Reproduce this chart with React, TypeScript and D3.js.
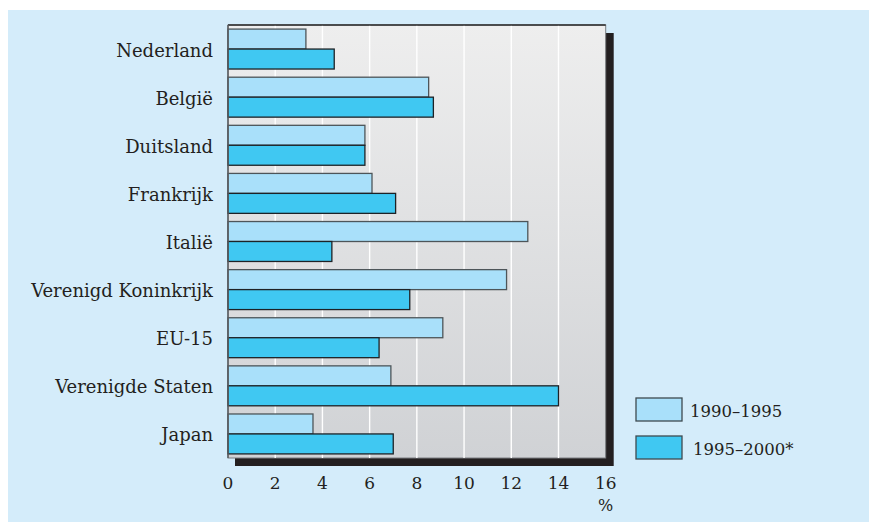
import * as d3 from 'd3';

const countries = [
  'Nederland',
  'België',
  'Duitsland',
  'Frankrijk',
  'Italië',
  'Verenigd Koninkrijk',
  'EU-15',
  'Verenigde Staten',
  'Japan',
];
const series = ['1990–1995', '1995–2000*'];
const values1990 = [3.3, 8.5, 5.8, 6.1, 12.7, 11.8, 9.1, 6.9, 3.6];
const values1995 = [4.5, 8.7, 5.8, 7.1, 4.4, 7.7, 6.4, 14.0, 7.0];
const xTicks = [0, 2, 4, 6, 8, 10, 12, 14, 16];

const W = 869;
const H = 522;
const colors = ['#a9e0fa', '#40c8f2'];
const strokes = ['#4d5559', '#1d2226'];
const font = '"DejaVu Serif", "Liberation Serif", serif';

export default function App() {
  const x = d3.scaleLinear().domain([0, 16]).range([228, 605.7]);
  const y = d3
    .scaleBand<string>()
    .domain(countries)
    .range([25, 458])
    .paddingInner(0.17)
    .paddingOuter(0.085);
  const ySub = d3.scaleBand<string>().domain(series).range([0, y.bandwidth()]);

  const rows = countries.map((c, i) => ({ c, v: [values1990[i], values1995[i]] }));
  const [x0, x1] = x.range();
  const [y0, y1] = y.range();

  return (
    <svg
      width={W}
      height={H}
      style={{ position: 'absolute', left: 0, top: 0, display: 'block' }}
    >
      <defs>
        <linearGradient id="plotbg" x1="0" y1="0" x2="0" y2="1">
          <stop offset="0%" stopColor="#eeeeee" />
          <stop offset="100%" stopColor="#d0d2d5" />
        </linearGradient>
      </defs>
      <rect x={0} y={0} width={W} height={H} fill="#ffffff" />
      <rect x={8} y={10} width={W - 8} height={H - 10} fill="#d4ecfa" />

      {/* shadow + plot panel */}
      <rect x={x0 + 7} y={y0 + 8} width={x1 - x0 + 1} height={y1 - y0} fill="#231f20" />
      <rect
        x={x0}
        y={y0}
        width={x1 - x0}
        height={y1 - y0}
        fill="url(#plotbg)"
        stroke="#7a7d80"
        strokeWidth={1}
      />
      {xTicks.slice(1, -1).map((t) => (
        <line key={t} x1={x(t)} x2={x(t)} y1={y0} y2={y1} stroke="#ffffff" strokeWidth={1.4} />
      ))}
      <line x1={x0} x2={x1} y1={y0} y2={y0} stroke="#2a2a2a" strokeWidth={1.3} />

      {rows.map((r) => (
        <g key={r.c} transform={`translate(0,${y(r.c)})`}>
          {series.map((s, j) => (
            <rect
              key={s}
              x={x(0)}
              y={ySub(s)}
              width={x(r.v[j]) - x(0)}
              height={ySub.bandwidth()}
              fill={colors[j]}
              stroke={strokes[j]}
              strokeWidth={1.3}
            />
          ))}
          <text
            x={213}
            y={y.bandwidth() / 2 + 7.5}
            textAnchor="end"
            fontFamily={font}
            fontSize={18}
            fill="#231f20"
          >
            {r.c}
          </text>
        </g>
      ))}
      <line x1={x0} x2={x0} y1={y0} y2={y1} stroke="#5a5d60" strokeWidth={1.5} />

      {xTicks.map((t) => (
        <text
          key={t}
          x={x(t)}
          y={489}
          textAnchor="middle"
          fontFamily={font}
          fontSize={17}
          fill="#231f20"
        >
          {t}
        </text>
      ))}
      <text x={x(16)} y={511} textAnchor="middle" fontFamily={font} fontSize={16} fill="#231f20">
        %
      </text>

      {series.map((s, j) => (
        <g key={s} transform={`translate(636,${398 + j * 38})`}>
          <rect width={46} height={23} fill={colors[j]} stroke="#3e4a50" strokeWidth={1.3} />
          <text x={54 + j * 3} y={19} fontFamily={font} fontSize={16.5} fill="#231f20">
            {s}
          </text>
        </g>
      ))}
    </svg>
  );
}
